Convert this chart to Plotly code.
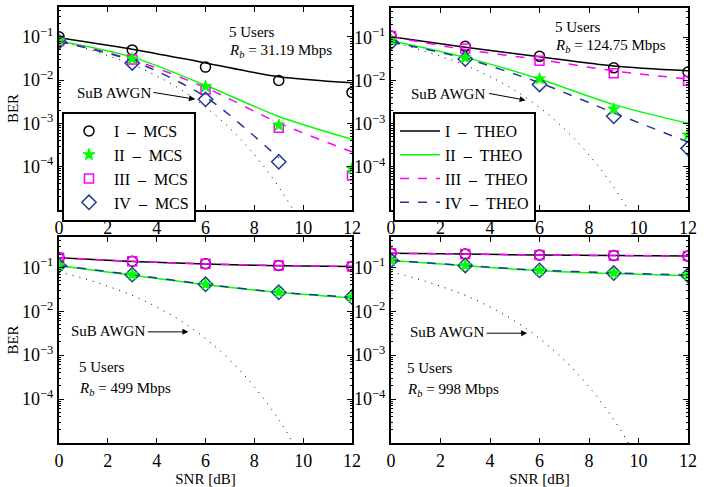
import plotly.graph_objects as go

# ---------------- data ----------------
snr = [0, 3, 6, 9, 12]
snr_awgn = [0, 1, 2, 3, 4, 5, 6, 7, 8, 9, 10, 11, 12]
ber_awgn = [0.079, 0.056, 0.037, 0.023, 0.0125, 0.006, 0.0024, 7.7e-4, 1.9e-4,
            3.4e-5, 3.9e-6, 2.6e-7, 9.0e-9]

rates = ["31.19", "124.75", "499", "998"]

# panel 1 : Rb = 31.19 Mbps
p1_mcs_I = [0.10, 0.050, 0.020, 0.0098, 0.0052]
p1_mcs_II = [0.082, 0.031, 0.0071, 0.00090, 9.0e-5]
p1_mcs_III = [0.080, 0.030, 0.0061, 0.00080, 6.3e-5]
p1_mcs_IV = [0.077, 0.025, 0.0036, 1.3e-4, None]
p1_theo_I = [0.096, 0.052, 0.025, 0.012, 0.0087]
p1_theo_II = [0.080, 0.034, 0.0076, 0.00145, 0.00043]
p1_theo_III = [0.080, 0.030, 0.0067, 0.00103, 0.00022]
p1_theo_IV = [0.078, 0.028, 0.0041, 0.00016, None]

# panel 2 : Rb = 124.75 Mbps
p2_mcs_I = [0.11, 0.063, 0.037, 0.020, 0.016]
p2_mcs_II = [0.087, 0.034, 0.011, 0.0022, 5.5e-4]
p2_mcs_III = [0.11, 0.056, 0.029, 0.015, 0.010]
p2_mcs_IV = [0.078, 0.032, 0.0082, 0.0015, 2.7e-4]
p2_theo_I = [0.105, 0.060, 0.036, 0.022, 0.017]
p2_theo_II = [0.085, 0.035, 0.011, 0.0028, 0.00103]
p2_theo_III = [0.105, 0.053, 0.031, 0.017, 0.011]
p2_theo_IV = [0.080, 0.033, 0.0090, 0.0018, 3.8e-4]

# panel 3 : Rb = 499 Mbps
p3_mcs_I = [0.166, 0.137, 0.120, 0.110, 0.105]
p3_mcs_II = [0.110, 0.068, 0.041, 0.027, 0.021]
p3_mcs_III = [0.166, 0.137, 0.120, 0.110, 0.105]
p3_mcs_IV = [0.110, 0.068, 0.041, 0.027, 0.021]
p3_theo_I = [0.164, 0.136, 0.119, 0.109, 0.104]
p3_theo_II = [0.109, 0.066, 0.040, 0.027, 0.020]
p3_theo_III = [0.166, 0.137, 0.120, 0.110, 0.105]
p3_theo_IV = [0.110, 0.068, 0.041, 0.027, 0.021]

# panel 4 : Rb = 998 Mbps
p4_mcs_I = [0.21, 0.200, 0.190, 0.185, 0.180]
p4_mcs_II = [0.145, 0.110, 0.085, 0.074, 0.066]
p4_mcs_III = [0.21, 0.200, 0.190, 0.185, 0.180]
p4_mcs_IV = [0.145, 0.110, 0.085, 0.074, 0.066]
p4_theo_I = [0.21, 0.200, 0.190, 0.185, 0.180]
p4_theo_II = [0.143, 0.108, 0.084, 0.072, 0.064]
p4_theo_III = [0.21, 0.200, 0.190, 0.185, 0.180]
p4_theo_IV = [0.145, 0.110, 0.086, 0.075, 0.067]

panels = [
    (p1_mcs_I, p1_mcs_II, p1_mcs_III, p1_mcs_IV, p1_theo_I, p1_theo_II, p1_theo_III, p1_theo_IV),
    (p2_mcs_I, p2_mcs_II, p2_mcs_III, p2_mcs_IV, p2_theo_I, p2_theo_II, p2_theo_III, p2_theo_IV),
    (p3_mcs_I, p3_mcs_II, p3_mcs_III, p3_mcs_IV, p3_theo_I, p3_theo_II, p3_theo_III, p3_theo_IV),
    (p4_mcs_I, p4_mcs_II, p4_mcs_III, p4_mcs_IV, p4_theo_I, p4_theo_II, p4_theo_III, p4_theo_IV),
]

SEP = "\u00a0\u00a0\u2013\u00a0\u00a0"
mcs_names = ["I" + SEP + "MCS", "II" + SEP + "MCS", "III" + SEP + "MCS", "IV" + SEP + "MCS"]
theo_names = ["I" + SEP + "THEO", "II" + SEP + "THEO", "III" + SEP + "THEO", "IV" + SEP + "THEO"]
y_ticks = [1e-4, 1e-3, 1e-2, 1e-1]
y_ticktext = ["10<sup>\u22124</sup>", "10<sup>\u22123</sup>", "10<sup>\u22122</sup>", "10<sup>\u22121</sup>"]
x_ticks = [0, 2, 4, 6, 8, 10, 12]

# ---------------- styles ----------------
FONT = "Liberation Serif, Times New Roman, serif"
BLACK = "#000000"
GREEN = "#00ff00"
MAGENTA = "#ff00ff"
NAVY = "#1f3a93"
colors = [BLACK, GREEN, MAGENTA, NAVY]
dashes = ["solid", "solid", "dash", "dash"]
symbols = ["circle-open", "star", "square-open", "diamond-open"]
msizes = [10, 9, 9, 11]

W, H = 722, 487
# panel pixel boxes (left, right, top, bottom)
boxes = [(59, 352, 7, 210), (391, 688, 8, 210), (59, 352, 237, 443), (391, 688, 237, 443)]

fig = go.Figure()

for i, data in enumerate(panels):
    k = "" if i == 0 else str(i + 1)
    xa, ya = "x" + k, "y" + k
    # sub-bound AWGN curve
    fig.add_trace(go.Scatter(x=snr_awgn, y=ber_awgn, mode="lines", xaxis=xa, yaxis=ya,
                             line=dict(color=BLACK, width=1, dash="1px,6px", shape="spline"),
                             showlegend=False, hoverinfo="skip"))
    # theory lines
    for j in range(4):
        fig.add_trace(go.Scatter(x=snr, y=data[4 + j], mode="lines", xaxis=xa, yaxis=ya,
                                 name=theo_names[j],
                                 line=dict(color=colors[j], width=1.5, dash=dashes[j], shape="spline", smoothing=0.8),
                                 showlegend=(i == 1), legend="legend2"))
    # simulated markers
    for j in [0, 2, 3, 1]:
        if symbols[j] == "star":
            mk = dict(symbol="star", size=msizes[j], color=GREEN, line=dict(color=GREEN, width=1))
        else:
            mk = dict(symbol=symbols[j], size=msizes[j], color=colors[j], line=dict(color=colors[j], width=1.5))
        fig.add_trace(go.Scatter(x=snr, y=data[j], mode="markers", xaxis=xa, yaxis=ya,
                                 name=mcs_names[j], marker=mk,
                                 showlegend=(i == 0), legend="legend", legendrank=j + 1))

axis_common = dict(showline=True, linecolor=BLACK, linewidth=2, mirror="allticks",
                   ticks="inside", ticklen=5, tickwidth=1, tickcolor=BLACK,
                   showgrid=False, zeroline=False, automargin=False,
                   tickfont=dict(family=FONT, size=18, color=BLACK))

for i, (l, r, t, b) in enumerate(boxes):
    k = "" if i == 0 else str(i + 1)
    xdom = [l / W, r / W]
    ydom = [1 - b / H, 1 - t / H]
    xax = dict(axis_common, domain=xdom, range=[0, 12], tickvals=x_ticks, anchor="y" + k)
    yax = dict(axis_common, domain=ydom, type="log", range=[-5, -0.31],
               tickvals=y_ticks, ticktext=y_ticktext, anchor="x" + k,
               minor=dict(ticks="inside", ticklen=2, tickcolor=BLACK,
                          tickvals=[m * 10 ** e for e in range(-5, 0) for m in range(2, 10)]))
    if i >= 2:
        xax["title"] = dict(text="SNR [dB]", font=dict(family=FONT, size=15, color=BLACK), standoff=2)
    if i in (0, 2):
        yax["title"] = dict(text="BER", font=dict(family=FONT, size=15, color=BLACK), standoff=0)
    fig.layout["xaxis" + k] = xax
    fig.layout["yaxis" + k] = yax

# annotations
ann_font = dict(family=FONT, size=15, color=BLACK)
# (text x px, users y px, rate y px)
txt_pos = [(227, 32, 51), (553, 27, 46), (77, 367, 389), (405, 368, 390)]
for i, (tx, uy, ry) in enumerate(txt_pos):
    fig.add_annotation(x=tx / W, y=1 - uy / H, xref="paper", yref="paper", xanchor="left", yanchor="middle",
                       text="5 Users", showarrow=False, font=ann_font)
    fig.add_annotation(x=tx / W, y=1 - ry / H, xref="paper", yref="paper", xanchor="left", yanchor="middle",
                       text="<i>R</i><sub><i>b</i></sub> = " + rates[i] + " Mbps", showarrow=False, font=ann_font)

# SuB AWGN arrows: tip (snr, log10 ber), tail offset in px, label position px
arrows = [(5.57, -2.44, -43, -7, 75, 93), (5.44, -2.45, -38, -7, 409, 94),
          (5.30, -2.47, -42, 0, 69, 331), (5.50, -2.50, -42, 0, 408, 332)]
for i, (ax_, ay_, dx, dy, lx, ly) in enumerate(arrows):
    k = "" if i == 0 else str(i + 1)
    fig.add_annotation(x=ax_, y=ay_, xref="x" + k, yref="y" + k, ax=dx, ay=dy,
                       text="", showarrow=True, arrowhead=2, arrowsize=1.2, arrowwidth=1, arrowcolor=BLACK,
                       standoff=0, startstandoff=0)
    fig.add_annotation(x=lx / W, y=1 - ly / H, xref="paper", yref="paper", xanchor="left", yanchor="middle",
                       text="SuB AWGN", showarrow=False, font=ann_font)

legend_common = dict(bgcolor="white", bordercolor=BLACK, borderwidth=2,
                     font=dict(family=FONT, size=16, color=BLACK),
                     xanchor="left", yanchor="top", tracegroupgap=0, itemwidth=40)
fig.update_layout(
    width=W, height=H,
    margin=dict(l=0, r=0, t=0, b=0),
    paper_bgcolor="white", plot_bgcolor="white",
    font=dict(family=FONT, size=15, color=BLACK),
    legend=dict(legend_common, x=62 / W, y=1 - 112 / H, traceorder="normal"),
    legend2=dict(legend_common, x=393 / W, y=1 - 112 / H),
)

fig.write_html("out.html", config={"displayModeBar": False},
               post_script="document.body.style.margin='0px';document.body.style.padding='0px';")
